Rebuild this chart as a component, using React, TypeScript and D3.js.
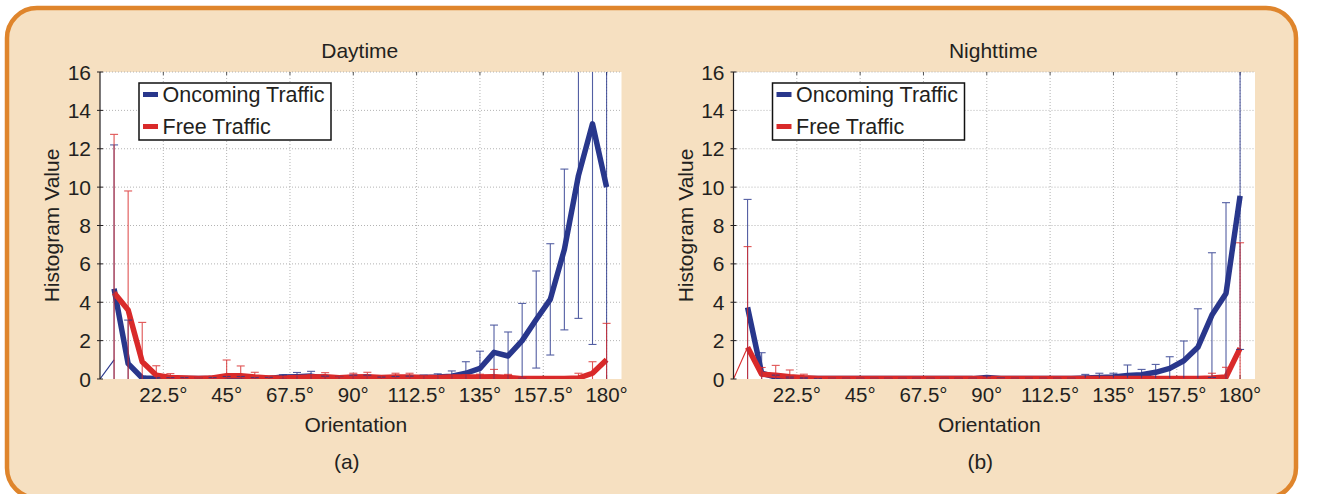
import React, { useEffect } from 'react';
import * as d3 from 'd3';

// orientation bins (degrees)
const angles = [5, 10, 15, 20, 25, 30, 35, 40, 45, 50, 55, 60, 65, 70, 75, 80, 85, 90,
  95, 100, 105, 110, 115, 120, 125, 130, 135, 140, 145, 150, 155, 160, 165, 170, 175, 180];

// Daytime
const dayOncoming = [4.7, 0.8, 0.05, 0.02, 0.02, 0.02, 0.02, 0.02, 0.05, 0.05, 0.02, 0.03, 0.1, 0.12, 0.15, 0.05, 0.05, 0.08,
  0.08, 0.03, 0.05, 0.05, 0.08, 0.1, 0.15, 0.3, 0.55, 1.39, 1.2, 2.0, 3.1, 4.15, 6.75, 10.6, 13.3, 10.0];
const dayOncomingErr = [7.5, 2.27, 0.1, 0.06, 0.05, 0.05, 0.05, 0.05, 0.08, 0.08, 0.05, 0.06, 0.12, 0.22, 0.25, 0.1, 0.08, 0.12,
  0.12, 0.07, 0.08, 0.1, 0.12, 0.17, 0.27, 0.6, 0.9, 1.42, 1.25, 1.94, 2.53, 2.9, 4.19, 7.44, 11.5, 12.0];
const dayFree = [4.5, 3.6, 0.9, 0.2, 0.08, 0.05, 0.03, 0.05, 0.17, 0.17, 0.1, 0.05, 0.05, 0.08, 0.1, 0.12, 0.06, 0.1,
  0.12, 0.08, 0.1, 0.1, 0.08, 0.08, 0.1, 0.1, 0.1, 0.12, 0.08, 0.02, 0.02, 0.02, 0.02, 0.05, 0.3, 1.0];
const dayFreeErr = [8.25, 6.2, 2.05, 0.49, 0.2, 0.08, 0.05, 0.1, 0.82, 0.51, 0.25, 0.1, 0.08, 0.1, 0.12, 0.21, 0.08, 0.2,
  0.23, 0.1, 0.2, 0.2, 0.1, 0.1, 0.1, 0.12, 0.15, 0.38, 0.16, 0.05, 0.03, 0.03, 0.05, 0.25, 0.6, 1.9];

// Nighttime
const nightOncoming = [3.73, 0.3, 0.1, 0.05, 0.03, 0.02, 0.02, 0.02, 0.02, 0.02, 0.02, 0.02, 0.02, 0.02, 0.02, 0.02, 0.02, 0.08,
  0.03, 0.02, 0.02, 0.02, 0.02, 0.02, 0.05, 0.08, 0.1, 0.18, 0.22, 0.35, 0.55, 0.95, 1.65, 3.33, 4.46, 9.54];
const nightOncomingErr = [5.63, 1.07, 0.1, 0.05, 0.03, 0.02, 0.02, 0.02, 0.02, 0.02, 0.02, 0.02, 0.02, 0.02, 0.02, 0.02, 0.02, 0.08,
  0.03, 0.02, 0.02, 0.02, 0.02, 0.02, 0.19, 0.22, 0.2, 0.55, 0.28, 0.41, 0.61, 1.03, 2.01, 3.25, 4.73, 8.0];
const nightFree = [1.65, 0.25, 0.2, 0.12, 0.06, 0.03, 0.02, 0.02, 0.02, 0.02, 0.02, 0.02, 0.02, 0.02, 0.02, 0.02, 0.02, 0.02,
  0.02, 0.02, 0.02, 0.02, 0.02, 0.02, 0.02, 0.02, 0.02, 0.02, 0.02, 0.02, 0.02, 0.02, 0.02, 0.05, 0.1, 1.6];
const nightFreeErr = [5.25, 0.35, 0.51, 0.35, 0.19, 0.05, 0.02, 0.02, 0.02, 0.02, 0.02, 0.02, 0.02, 0.02, 0.02, 0.02, 0.02, 0.02,
  0.02, 0.02, 0.02, 0.02, 0.02, 0.02, 0.02, 0.02, 0.02, 0.02, 0.02, 0.02, 0.02, 0.02, 0.02, 0.25, 0.51, 5.5];

// stray thin errorbar segment from the origin to the first bin
const leadInAngles = [0, 5];
const dayLeadIn = [0, 1.0];
const nightLeadIn = [0, 1.65];

const xTicks = [22.5, 45, 67.5, 90, 112.5, 135, 157.5, 180];
const xTickLabels = ['22.5°', '45°', '67.5°', '90°', '112.5°', '135°', '157.5°', '180°'];
const yTicks = [0, 2, 4, 6, 8, 10, 12, 14, 16];
const legendLabels = ['Oncoming Traffic', 'Free Traffic'];

const BLUE = '#29378c';
const RED = '#d92a2a';
const INK = '#231f20';
const FONT = '"Liberation Sans", Arial, Helvetica, sans-serif';

function Panel({ id, left, title, caption, oncoming, oncomingErr, free, freeErr, leadIn, leadColor }) {
  const top = 72;
  const bottom = 379;
  const right = left + 521.5;
  const x = d3.scaleLinear().domain([0, 185.3]).range([left, right]);
  const y = d3.scaleLinear().domain([0, 16]).range([bottom, top]);
  const line = d3.line<number>().x((d, i) => x(angles[i])).y(d => y(d));
  const leadLine = d3.line<number>().x((d, i) => x(leadInAngles[i])).y(d => y(d));
  const cx = (left + right) / 2;

  const bars = (vals: number[], errs: number[], color: string) =>
    vals.map((v, i) => {
      const px = x(angles[i]);
      const y1 = y(v + errs[i]);
      const y2 = y(v - errs[i]);
      return (
        <g key={i} stroke={color} strokeWidth={1.1} opacity={0.8}>
          <line x1={px} x2={px} y1={y1} y2={y2} />
          <line x1={px - 4} x2={px + 4} y1={y1} y2={y1} />
          <line x1={px - 4} x2={px + 4} y1={y2} y2={y2} />
        </g>
      );
    });

  return (
    <g>
      <defs>
        <clipPath id={id}>
          <rect x={left} y={top} width={right - left} height={bottom - top} />
        </clipPath>
      </defs>
      <rect x={left} y={top} width={right - left} height={bottom - top} fill="#fff" />

      {/* grid */}
      <g stroke="#b3b3b3" strokeWidth={1} strokeDasharray="1,2">
        {xTicks.map(t => <line key={'gx' + t} x1={x(t)} x2={x(t)} y1={top} y2={bottom} />)}
        {yTicks.slice(1).map(t => <line key={'gy' + t} x1={left} x2={right} y1={y(t)} y2={y(t)} />)}
      </g>
      <g stroke="#555" strokeWidth={1}>
        {xTicks.map(t => <line key={'tb' + t} x1={x(t)} x2={x(t)} y1={bottom} y2={bottom - 4} />)}
        {xTicks.map(t => <line key={'tt' + t} x1={x(t)} x2={x(t)} y1={top} y2={top + 3} />)}
      </g>

      {/* data */}
      <g clipPath={`url(#${id})`}>
        <path d={leadLine(leadIn) || ''} fill="none" stroke={leadColor} strokeWidth={1.1} />
        <path d={line(oncoming) || ''} fill="none" stroke={BLUE} strokeWidth={5.5} strokeLinejoin="round" />
        <path d={line(free) || ''} fill="none" stroke={RED} strokeWidth={5.5} strokeLinejoin="round" />
        {bars(oncoming, oncomingErr, BLUE)}
        {bars(free, freeErr, RED)}
      </g>

      {/* y axis */}
      <line x1={left} x2={left} y1={top} y2={bottom} stroke={INK} strokeWidth={1.2} />
      {yTicks.map(t => (
        <g key={'yt' + t}>
          <line x1={left - 3} x2={left + 3} y1={y(t)} y2={y(t)} stroke={INK} strokeWidth={1} />
          <text x={left - 9} y={y(t)} dy="0.36em" textAnchor="end" fontSize={21} fill={INK}>{t}</text>
        </g>
      ))}
      {xTicks.map((t, i) => (
        <text key={'xl' + t} x={x(t)} y={402} textAnchor="middle" fontSize={20.5} fill={INK}>{xTickLabels[i]}</text>
      ))}

      <text x={cx - 1} y={58} textAnchor="middle" fontSize={21} fill={INK}>{title}</text>
      <text x={cx - 5} y={432} textAnchor="middle" fontSize={21} fill={INK}>Orientation</text>
      <text x={cx - 14} y={469} textAnchor="middle" fontSize={21} fill={INK}>{caption}</text>
      <text transform={`translate(${left - 41},${(top + bottom) / 2}) rotate(-90)`} textAnchor="middle"
        fontSize={21} fill={INK}>Histogram Value</text>

      {/* legend */}
      <g transform={`translate(${left + 39},83)`}>
        <rect x={0} y={0} width={192} height={57} fill="#fff" stroke="#111" strokeWidth={1.5} />
        {legendLabels.map((lab, i) => (
          <g key={lab} transform={`translate(0,${11.5 + i * 32})`}>
            <line x1={4} x2={19} y1={0} y2={0} stroke={i === 0 ? BLUE : RED} strokeWidth={5} />
            <text x={23.5} y={0} dy="0.36em" fontSize={21.5} fill={INK}>{lab}</text>
          </g>
        ))}
      </g>
    </g>
  );
}

export default function App() {
  useEffect(() => {
    document.body.style.margin = '0';
  }, []);

  return (
    <svg width={1317} height={494} style={{ display: 'block', fontFamily: FONT }}>
      <rect x={0} y={0} width={1317} height={494} fill="#fff" />
      <rect x={7} y={8} width={1289} height={490} rx={30} ry={30} fill="#f6e0c1" stroke="#df852c" strokeWidth={4.5} />
      <Panel id="clipDay" left={100} title="Daytime" caption="(a)"
        oncoming={dayOncoming} oncomingErr={dayOncomingErr} free={dayFree} freeErr={dayFreeErr}
        leadIn={dayLeadIn} leadColor={BLUE} />
      <Panel id="clipNight" left={733.5} title="Nighttime" caption="(b)"
        oncoming={nightOncoming} oncomingErr={nightOncomingErr} free={nightFree} freeErr={nightFreeErr}
        leadIn={nightLeadIn} leadColor={RED} />
    </svg>
  );
}
